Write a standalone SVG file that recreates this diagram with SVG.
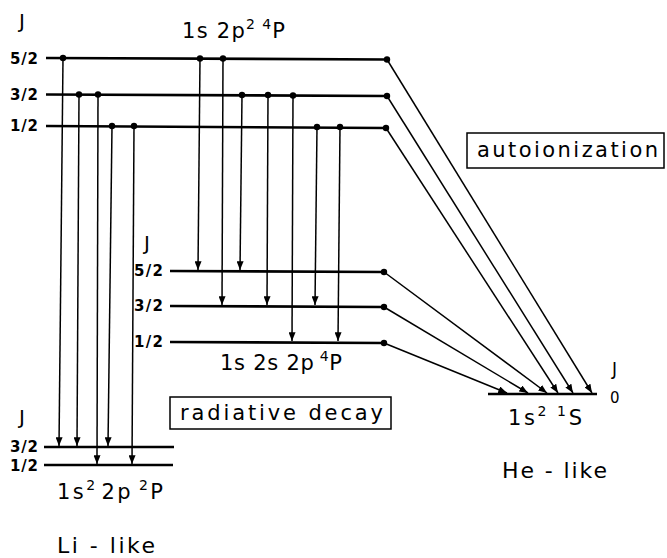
<svg xmlns="http://www.w3.org/2000/svg" width="667" height="558" viewBox="0 0 667 558">
<style>
text{font-family:"DejaVu Sans","Liberation Sans",sans-serif;fill:#000}
.lv{stroke:#000;stroke-width:2.6;fill:none}
.tr{stroke:#000;stroke-width:1.5;fill:none;marker-end:url(#ah)}
.dot{fill:#000}
.j{font-size:20px}
.lab{font-size:15px;font-weight:bold}
.big{font-size:21px}
.sup{font-size:14px}
.box{fill:none;stroke:#000;stroke-width:1.5}
</style>
<defs>
<marker id="ah" viewBox="0 0 10 8" refX="10" refY="4" markerWidth="9" markerHeight="7" markerUnits="userSpaceOnUse" orient="auto">
<path d="M0,0 L10,4 L0,8 Z" fill="#000"/>
</marker>
</defs>
<g id="upper">
<line class="lv" x1="46" y1="58" x2="387" y2="59.5"/>
<line class="lv" x1="46" y1="94.5" x2="387" y2="96"/>
<line class="lv" x1="46" y1="126" x2="386" y2="128"/>
<circle class="dot" cx="63" cy="58" r="3.2"/>
<circle class="dot" cx="200" cy="58.5" r="3.2"/>
<circle class="dot" cx="223" cy="58.5" r="3.2"/>
<circle class="dot" cx="387" cy="59.5" r="3.2"/>
<circle class="dot" cx="79" cy="94.5" r="3.2"/>
<circle class="dot" cx="98" cy="94.5" r="3.2"/>
<circle class="dot" cx="242" cy="95" r="3.2"/>
<circle class="dot" cx="268" cy="95" r="3.2"/>
<circle class="dot" cx="293" cy="95.5" r="3.2"/>
<circle class="dot" cx="387" cy="96" r="3.2"/>
<circle class="dot" cx="112" cy="126" r="3.2"/>
<circle class="dot" cx="134" cy="126" r="3.2"/>
<circle class="dot" cx="317" cy="127" r="3.2"/>
<circle class="dot" cx="340" cy="127" r="3.2"/>
<circle class="dot" cx="386" cy="128" r="3.2"/>
<text class="j" x="19" y="28">J</text>
<text class="lab" x="10" y="64" textLength="28" lengthAdjust="spacing">5/2</text>
<text class="lab" x="10" y="100" textLength="28" lengthAdjust="spacing">3/2</text>
<text class="lab" x="10" y="131" textLength="28" lengthAdjust="spacing">1/2</text>
<text class="big" x="182" y="38" textLength="103" lengthAdjust="spacing">1s 2p<tspan class="sup" dy="-9">2</tspan><tspan dx="6" class="sup">4</tspan><tspan dy="9">P</tspan></text>
</g>
<g id="middle">
<line class="lv" x1="170" y1="271" x2="384" y2="272"/>
<line class="lv" x1="170" y1="306" x2="384" y2="307"/>
<line class="lv" x1="170" y1="342" x2="384" y2="343"/>
<circle class="dot" cx="384" cy="272" r="3.2"/>
<circle class="dot" cx="384" cy="307" r="3.2"/>
<circle class="dot" cx="384" cy="343" r="3.2"/>
<text class="j" x="144" y="250">J</text>
<text class="lab" x="134" y="276" textLength="29" lengthAdjust="spacing">5/2</text>
<text class="lab" x="134" y="311" textLength="29" lengthAdjust="spacing">3/2</text>
<text class="lab" x="134" y="347" textLength="29" lengthAdjust="spacing">1/2</text>
<text class="big" x="220" y="370" textLength="122" lengthAdjust="spacing">1s 2s 2p<tspan class="sup" dx="5" dy="-9">4</tspan><tspan dy="9">P</tspan></text>
</g>
<g id="lilike">
<line class="lv" x1="44" y1="447" x2="174" y2="447"/>
<line class="lv" x1="44" y1="465" x2="173" y2="465"/>
<text class="j" x="19" y="424">J</text>
<text class="lab" x="10" y="452" textLength="28" lengthAdjust="spacing">3/2</text>
<text class="lab" x="10" y="471" textLength="28" lengthAdjust="spacing">1/2</text>
<text class="big" x="57" y="499" textLength="106" lengthAdjust="spacing">1s<tspan class="sup" dy="-9">2</tspan><tspan dx="4" dy="9">2p</tspan><tspan class="sup" dx="6" dy="-9">2</tspan><tspan dy="9">P</tspan></text>
<text class="big" style="font-size:22px" x="57" y="553" textLength="98" lengthAdjust="spacing">Li - like</text>
</g>
<g id="helike">
<line class="lv" x1="488" y1="394" x2="597" y2="394"/>
<text class="j" style="font-size:17px" x="612" y="375">J</text>
<text class="lab" style="font-weight:normal" x="610" y="403">0</text>
<text class="big" x="508" y="425" textLength="74" lengthAdjust="spacing">1s<tspan class="sup" dy="-9">2</tspan><tspan class="sup" dx="8">1</tspan><tspan dy="9">S</tspan></text>
<text class="big" style="font-size:22px" x="502" y="478" textLength="105" lengthAdjust="spacing">He - like</text>
</g>
<g id="autoionization-label">
<rect class="box" x="467" y="133" width="197" height="35"/>
<text class="big" x="477" y="157" textLength="181" lengthAdjust="spacing">autoionization</text>
</g>
<g id="radiative-label">
<rect class="box" x="170" y="397" width="221" height="32"/>
<text class="big" x="180" y="420" textLength="203" lengthAdjust="spacing">radiative decay</text>
</g>
<g id="connectors">
<line class="tr" x1="63" y1="58" x2="59" y2="446"/>
<line class="tr" x1="79" y1="95" x2="77" y2="446"/>
<line class="tr" x1="98" y1="95" x2="97" y2="464"/>
<line class="tr" x1="112" y1="126" x2="108" y2="446"/>
<line class="tr" x1="134" y1="126" x2="132" y2="464"/>
<line class="tr" x1="200" y1="58" x2="198" y2="270"/>
<line class="tr" x1="223" y1="58" x2="222" y2="305"/>
<line class="tr" x1="242" y1="95" x2="240" y2="270"/>
<line class="tr" x1="268" y1="95" x2="267" y2="305"/>
<line class="tr" x1="293" y1="95" x2="292" y2="341"/>
<line class="tr" x1="317" y1="127" x2="315" y2="305"/>
<line class="tr" x1="340" y1="127" x2="338" y2="341"/>
<line class="tr" x1="387" y1="59.5" x2="592" y2="393"/>
<line class="tr" x1="387" y1="96" x2="573" y2="393"/>
<line class="tr" x1="386" y1="128" x2="558" y2="393"/>
<line class="tr" x1="384" y1="272" x2="547" y2="393"/>
<line class="tr" x1="384" y1="307" x2="528" y2="393"/>
<line class="tr" x1="384" y1="343" x2="507" y2="393"/>
</g>
</svg>
